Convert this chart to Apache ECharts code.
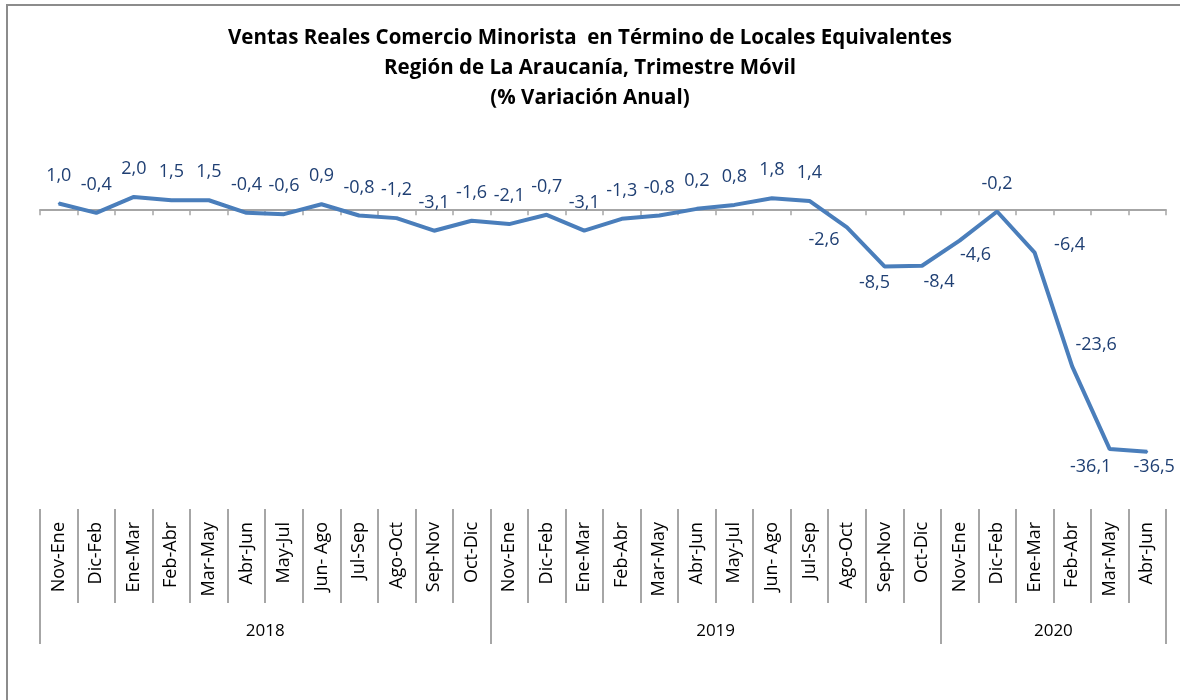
<!DOCTYPE html>
<html>
<head>
<meta charset="utf-8">
<script src="https://cdn.jsdelivr.net/npm/echarts@6/dist/echarts.min.js"></script>
<style>
  html, body { margin: 0; padding: 0; overflow: hidden; background: #fff; }
  #frame { position: absolute; left: 6px; top: 4px; width: 1300px; height: 900px; border: 2px solid #8c8c8c; }
  #chart { position: absolute; left: 0; top: 0; width: 1180px; height: 700px; }
</style>
</head>
<body>
<div id="frame"></div>
<div id="chart"></div>
<script>
// Trimestres móviles (eje de categorías)
const categories = [
  'Nov-Ene', 'Dic-Feb', 'Ene-Mar', 'Feb-Abr', 'Mar-May', 'Abr-Jun', 'May-Jul', 'Jun- Ago', 'Jul-Sep', 'Ago-Oct', 'Sep-Nov', 'Oct-Dic',
  'Nov-Ene', 'Dic-Feb', 'Ene-Mar', 'Feb-Abr', 'Mar-May', 'Abr-Jun', 'May-Jul', 'Jun- Ago', 'Jul-Sep', 'Ago-Oct', 'Sep-Nov', 'Oct-Dic',
  'Nov-Ene', 'Dic-Feb', 'Ene-Mar', 'Feb-Abr', 'Mar-May', 'Abr-Jun'
];
// % variación anual
const values = [
  1.0, -0.4, 2.0, 1.5, 1.5, -0.4, -0.6, 0.9, -0.8, -1.2, -3.1, -1.6,
  -2.1, -0.7, -3.1, -1.3, -0.8, 0.2, 0.8, 1.8, 1.4, -2.6, -8.5, -8.4,
  -4.6, -0.2, -6.4, -23.6, -36.1, -36.5
];
// años: etiqueta en el centro de cada grupo, separadores en los límites
const years = ['2018', '2019', '2020'];
const yearCenters = [6, 18, 27];
const yearBounds = [0, 12, 24, 30];

// desplazamiento de algunas etiquetas (centro de la etiqueta respecto al punto)
const labelShift = {
  21: [-23, 12], 22: [-10, 16], 23: [17, 16], 24: [16, 14],
  26: [35, -8], 27: [24, -21], 28: [-19, 18], 29: [7, 15]
};

const chart = echarts.init(document.getElementById('chart'));
const font = 'Open Sans';
const gray = '#a6a6a6';

const seriesData = values.map((v, i) => {
  const item = { value: v };
  if (labelShift[i]) {
    item.label = { position: 'inside', offset: labelShift[i] };
  }
  return item;
});

const options = {
  animation: false,
  title: {
    text: 'Ventas Reales Comercio Minorista  en Término de Locales Equivalentes\nRegión de La Araucanía, Trimestre Móvil\n(% Variación Anual)',
    left: 'center',
    top: 23,
    padding: 0,
    textStyle: { fontFamily: font, fontSize: 20.5, fontWeight: 'bold', color: '#000', lineHeight: 30 }
  },
  grid: { left: 40, right: 14, top: 144, bottom: 192 },
  yAxis: { type: 'value', min: -45, max: 10, show: false },
  xAxis: [
    {
      type: 'category',
      data: categories,
      boundaryGap: true,
      axisLine: { onZero: true, lineStyle: { color: gray, width: 2 } },
      axisTick: { show: true, interval: 0, length: 5, lineStyle: { color: gray, width: 1.5 } },
      axisLabel: { show: false }
    },
    {
      type: 'category',
      data: categories,
      position: 'bottom',
      offset: 1,
      boundaryGap: true,
      axisLine: { show: false, onZero: false },
      axisTick: { show: true, interval: 0, length: 94, lineStyle: { color: gray, width: 2 } },
      axisLabel: { interval: 0, rotate: 90, margin: 13, fontFamily: font, fontSize: 18, color: '#000' }
    },
    {
      type: 'value',
      min: 0,
      max: 30,
      position: 'bottom',
      offset: 95,
      splitLine: { show: false },
      axisLine: { show: false, onZero: false },
      axisTick: { show: true, customValues: yearBounds, length: 41, lineStyle: { color: gray, width: 2 } },
      axisLabel: {
        customValues: yearCenters,
        margin: 20,
        fontFamily: font,
        fontSize: 17,
        color: '#000',
        formatter: v => years[yearCenters.indexOf(v)]
      }
    }
  ],
  series: [
    {
      name: '% Variación Anual',
      type: 'line',
      xAxisIndex: 0,
      data: seriesData,
      symbol: 'circle',
      symbolSize: 2,
      showSymbol: true,
      lineStyle: { color: '#4a7ebb', width: 4 },
      itemStyle: { color: '#4a7ebb' },
      label: {
        show: true,
        position: 'top',
        distance: 17,
        fontFamily: font,
        fontSize: 18,
        lineHeight: 20,
        color: '#1f3f73',
        formatter: p => p.value.toFixed(1).replace('.', ',')
      }
    }
  ]
};

chart.setOption(options);

window.addEventListener('resize', () => {
  chart.resize();
});
</script>
</body>
</html>
